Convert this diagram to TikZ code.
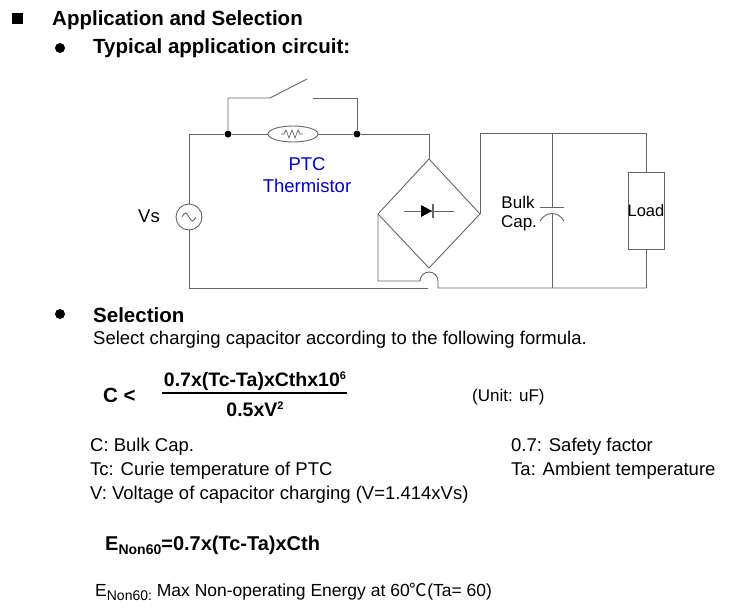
\documentclass[tikz,border=0pt]{standalone}
\usepackage{fontspec}
\usetikzlibrary{shapes.geometric}
\setmainfont{Liberation Sans}
\newfontfamily\cjk{Noto Sans CJK SC}
\begin{document}
\begin{tikzpicture}[x=1pt,y=-1pt,
  w/.style={draw=black!60,line width=0.9pt},
  t/.style={anchor=west,inner sep=0pt,font=\fontsize{18.5}{22}\selectfont},
  hb/.style={anchor=west,inner sep=0pt,font=\fontsize{20.5}{24}\selectfont\bfseries},
  lb/.style={inner sep=0pt,font=\fontsize{18.5}{22}\selectfont},
  dot/.style={circle,fill=black,inner sep=0pt,minimum size=7pt}]
\useasboundingbox[fill=white] (0,0) rectangle (740,613);
% headings
\fill (12,13) rectangle (23,24);
\node[hb] (h1) at (52,20) {Application and Selection};
\fill (60,48) circle (5);
\node[hb] (h2) at (93,48) {Typical application circuit:};
% circuit
\node[dot] (d1) at (228,134) {};
\node[dot] (d2) at (357,134) {};
\node[draw=black!60,line width=0.9pt,ellipse,minimum width=50pt,minimum height=16pt,inner sep=0pt] (th) at (293,134) {};
\draw[w] (d1) -- (th.west) (th.east) -- (d2);
\draw[w,line width=0.7pt] (281,134) -- ++(3,0) -- ++(2,-4) -- ++(3,8) -- ++(3,-8) -- ++(3,8) -- ++(3,-8) -- ++(2,4) -- ++(3,0);
\draw[w] (d1) -- (228,98) -- (270,98) -- (307,79);
\draw[w] (313,98) -- (357,98) -- (d2);
\node[draw=black!60,line width=0.9pt,circle,minimum size=26pt,inner sep=0pt] (src) at (189,217) {};
\draw[w] (182,217) sin ++(3.5,-4) cos ++(3.5,4) sin ++(3.5,4) cos ++(3.5,-4);
\draw[w] (src.north) -- (189,134) -- (d1);
\coordinate (bt) at (429,159);
\coordinate (bl) at (378,214);
\coordinate (br) at (480,214);
\coordinate (bb) at (429,268);
\draw[w] (d2) -- (429,134) -- (bt);
\draw[w] (bt) -- (br) -- (bb) -- (bl) -- cycle;
\draw[w] (404,211) -- (454,211);
\fill (421,205) -- (432,211) -- (421,217) -- cycle;
\draw[w,line width=1.2pt] (433,204) -- (433,218);
\draw[w] (bl) -- (378,281) -- (420,281) arc[start angle=180,end angle=360,radius=9] -- (438,288) -- (646,288);
\draw[w] (src.south) -- (189,288) -- (428,288);
\draw[w] (br) -- (480,133) -- (646,133) -- (646,172);
\node[draw=black!60,line width=0.9pt,minimum width=36pt,minimum height=77pt,inner sep=0pt] (load) at (646,210.5) {};
\node[lb,font=\fontsize{16.5}{20}\selectfont] at (load) {Load};
\draw[w] (load.south) -- (646,288);
\draw[w] (552,133) -- (552,207) (540,207) -- (564,207);
\draw[w] (540,221) .. controls (546,211) and (558,211) .. (564,221);
\draw[w] (552,213.5) -- (552,288);
\node[lb,text=blue!85!black] at (307,164) {PTC};
\node[lb,text=blue!85!black] at (307,186) {Thermistor};
\node[lb] at (149,216) {Vs};
\node[lb,font=\fontsize{17}{20}\selectfont] at (518,202) {Bulk};
\node[lb,font=\fontsize{17}{20}\selectfont] at (519,223) {Cap.};
% selection
\fill (60,314) circle (5);
\node[hb] (h3) at (93,315) {Selection};
\node[t] (s1) at (93,340) {Select charging capacitor according to the following formula.};
\node[hb] (c) at (103,395) {C <};
\node[anchor=center,inner sep=0pt,font=\fontsize{19.5}{22}\selectfont\bfseries] (num) at (255,381) {0.7x(Tc-Ta)xCthx10\raisebox{7pt}{\fontsize{11}{11}\selectfont 6}};
\draw[line width=1.4pt] (162,393) -- (347,393);
\node[anchor=center,inner sep=0pt,font=\fontsize{19.5}{22}\selectfont\bfseries] (den) at (255,409) {0.5xV\raisebox{7pt}{\fontsize{11}{11}\selectfont 2}};
\node[t,font=\fontsize{17}{20}\selectfont] at (472,397) {(Unit: uF)};
\node[t] at (90,447) {C: Bulk Cap.};
\node[t] at (90,471) {Tc: Curie temperature of PTC};
\node[t] at (90,495) {V: Voltage of capacitor charging (V=1.414xVs)};
\node[t] at (511,447) {0.7: Safety factor};
\node[t] at (511,471) {Ta: Ambient temperature};
\node[t,font=\fontsize{20}{24}\selectfont\bfseries] at (105,545) {E\raisebox{-4pt}{\fontsize{14}{14}\selectfont Non60}=0.7x(Tc-Ta)xCth};
\node[t,font=\fontsize{17.5}{20}\selectfont] at (95,592) {E\raisebox{-4pt}{\fontsize{14}{14}\selectfont Non60:} Max Non-operating Energy at 60{\cjk ℃}(Ta= 60)};
\end{tikzpicture}
\end{document}
